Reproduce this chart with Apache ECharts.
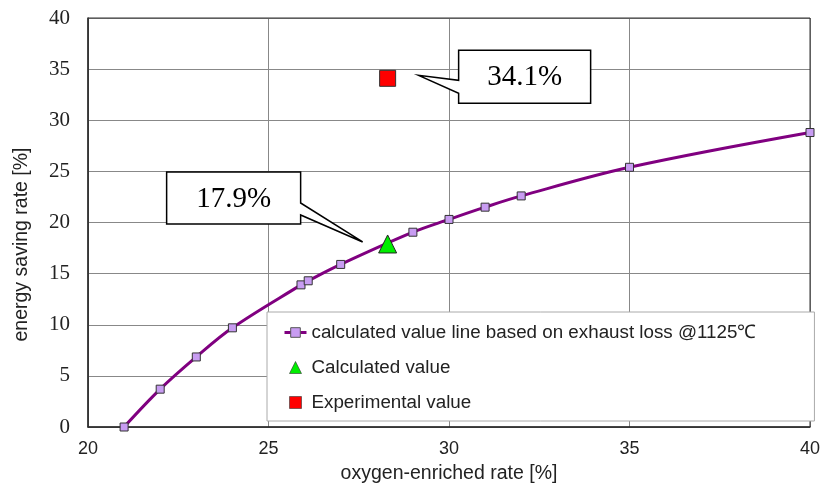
<!DOCTYPE html>
<html><head><meta charset="utf-8">
<script src="https://cdn.jsdelivr.net/npm/echarts@6/dist/echarts.min.js"></script>
<style>html,body{margin:0;padding:0;background:#fff}#c{width:824px;height:492px}</style>
</head><body><div id="c"></div>
<script>
const lineName = 'calculated value line based on exhaust loss @1125℃';
const calcName = 'Calculated value';
const expName = 'Experimental value';
const oxygenRate = [21, 22, 23, 24, 25.9, 26.1, 27, 29, 30, 31, 32, 35, 40];
const savingRate = [0, 3.7, 6.85, 9.7, 13.9, 14.3, 15.9, 19.05, 20.3, 21.5, 22.6, 25.4, 28.8];
const calcPoint = [28.3, 17.9];
const expPoint = [28.3, 34.1];
const calcLabel = '17.9%';
const expLabel = '34.1%';

const chart = echarts.init(document.getElementById('c'));
const serif = '"Liberation Serif", "DejaVu Serif", serif';
const sans = '"Liberation Sans", Arial, sans-serif';
chart.setOption({
  animation: false,
  grid: {left: 88, right: 14, top: 18, bottom: 65, show: true, borderColor: '#333', borderWidth: 1, z: 3},
  xAxis: {
    type: 'value', min: 20, max: 40, interval: 5,
    name: 'oxygen-enriched rate [%]', nameLocation: 'middle', nameGap: 37,
    nameTextStyle: {fontFamily: sans, fontSize: 19.5, color: '#222'},
    axisLine: {show: true, lineStyle: {color: '#222', width: 1.5}},
    axisTick: {show: false},
    axisLabel: {fontFamily: sans, fontSize: 18, color: '#222', margin: 13},
    splitLine: {show: true, lineStyle: {color: '#888', width: 1}}
  },
  yAxis: {
    type: 'value', min: 0, max: 40, interval: 5,
    name: 'energy saving rate [%]', nameLocation: 'middle', nameGap: 56, nameRotate: 90,
    nameTextStyle: {fontFamily: sans, fontSize: 19.5, color: '#222', padding: [0, 44, 0, 0]},
    axisLine: {show: true, lineStyle: {color: '#222', width: 1.5}},
    axisTick: {show: false},
    axisLabel: {fontFamily: serif, fontSize: 21, color: '#222', margin: 18},
    splitLine: {show: true, lineStyle: {color: '#888', width: 1}}
  },
  legend: {
    orient: 'vertical', left: 267, top: 312,
    backgroundColor: '#fff', borderColor: '#aaa', borderWidth: 1,
    padding: [11, 58, 9, 16], itemGap: 16, itemWidth: 22, itemHeight: 12,
    textStyle: {fontFamily: sans, fontSize: 18.8, color: '#222'},
    data: [
      {name: lineName, itemStyle: {borderWidth: 1, borderColor: '#555'}, lineStyle: {width: 3, color: '#800080'}},
      {name: calcName, icon: 'path://M0,0M22,12M5,12L11,0L17,12Z', itemStyle: {borderColor: '#333', borderWidth: 0.6, opacity: 1}},
      {name: expName, icon: 'path://M0,0M22,12M5,0H17V12H5Z', itemStyle: {borderColor: '#333', borderWidth: 0.6, opacity: 1}}
    ],
    z: 10
  },
  series: [
    {
      name: lineName, type: 'line', smooth: 0.35,
      data: oxygenRate.map((x, i) => [x, savingRate[i]]),
      symbol: 'rect', symbolSize: 8,
      lineStyle: {color: '#800080', width: 3},
      itemStyle: {color: '#c89cf2', borderColor: '#333', borderWidth: 1},
      z: 4
    },
    {
      name: calcName, type: 'scatter', data: [calcPoint],
      symbol: 'triangle', symbolSize: 18,
      itemStyle: {color: '#00ee00', borderColor: '#222', borderWidth: 1, opacity: 1}, z: 5
    },
    {
      name: expName, type: 'scatter', data: [expPoint],
      symbol: 'rect', symbolSize: 16,
      itemStyle: {color: '#ff0000', borderColor: '#333', borderWidth: 1, opacity: 1}, z: 5
    }
  ]
});

function callout(anchor, pts, boxRect, text) {
  const p = chart.convertToPixel({gridIndex: 0}, anchor);
  return [
    {type: 'polygon', z: 20,
     shape: {points: pts.map(q => [p[0] + q[0], p[1] + q[1]])},
     style: {fill: '#fff', stroke: '#000', lineWidth: 1.5}},
    {type: 'text', z: 21,
     x: p[0] + (boxRect[0] + boxRect[2]) / 2, y: p[1] + (boxRect[1] + boxRect[3]) / 2 + 1,
     style: {text: text, fontFamily: serif, fontSize: 29, fill: '#000', align: 'center', verticalAlign: 'middle'}}
  ];
}
const g1 = callout(calcPoint,
  [[-221,-72],[-87,-72],[-87,-41],[-25,-2],[-87,-29],[-87,-20],[-221,-20]],
  [-221,-72,-87,-20], calcLabel);
const g2 = callout(expPoint,
  [[71,-28],[203,-28],[203,25],[71,25],[71,15],[31,-3],[71,2]],
  [71,-28,203,25], expLabel);
chart.setOption({graphic: g1.concat(g2)});
</script></body></html>
